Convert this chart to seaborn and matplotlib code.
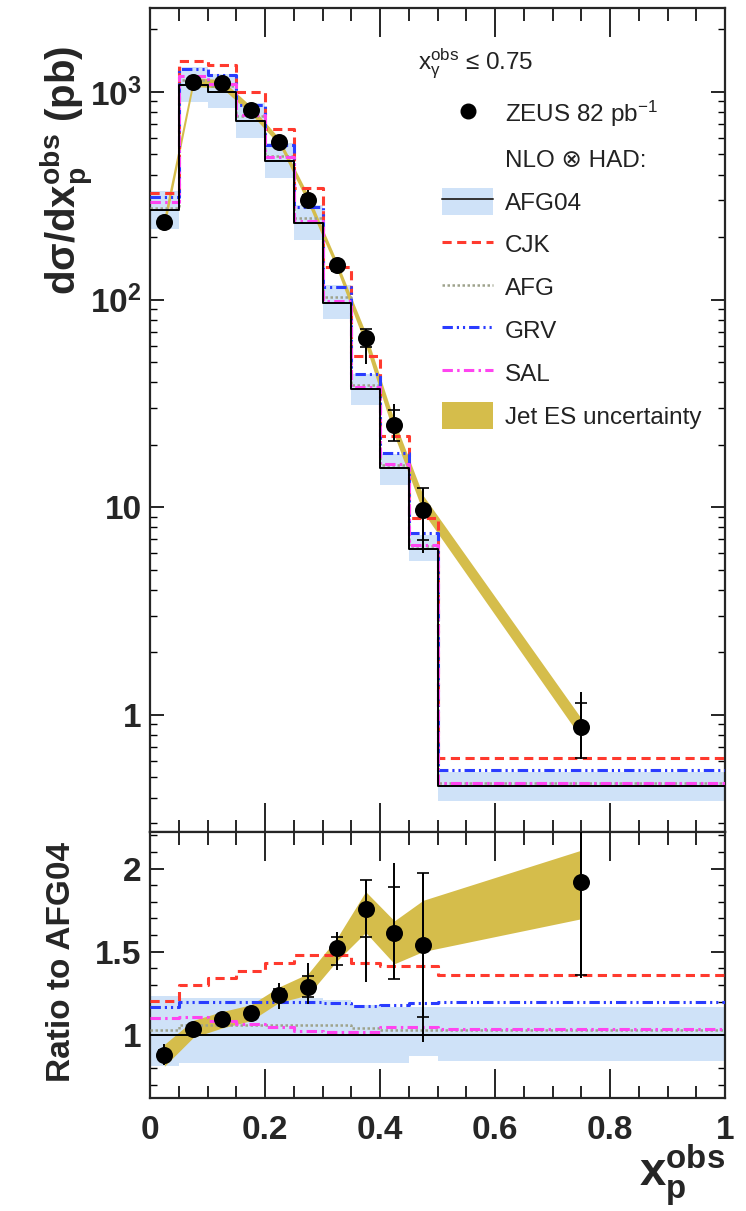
import numpy as np
import pandas as pd
import matplotlib
matplotlib.use("Agg")
import matplotlib.pyplot as plt
import seaborn as sns
from matplotlib.lines import Line2D
from matplotlib.patches import Patch
from matplotlib.ticker import FixedLocator, MultipleLocator, LogLocator, FuncFormatter, NullFormatter

# ---------------- data ----------------
bin_edges = [0.0, 0.05, 0.10, 0.15, 0.20, 0.25, 0.30, 0.35, 0.40, 0.45, 0.50, 1.0]
x_centers = [0.025, 0.075, 0.125, 0.175, 0.225, 0.275, 0.325, 0.375, 0.425, 0.475, 0.75]

zeus = [237, 1117, 1100, 819, 575, 302, 147, 65.5, 25.0, 9.7, 0.875]
stat_up = [0.03, 0.02, 0.015, 0.02, 0.03, 0.05, 0.045, 0.10, 0.17, 0.28, 0.30]
stat_dn = [0.03, 0.02, 0.015, 0.02, 0.03, 0.05, 0.065, 0.095, 0.17, 0.28, 0.29]
tot_up = [0.07, 0.04, 0.03, 0.04, 0.06, 0.11, 0.065, 0.10, 0.26, 0.28, 0.47]
tot_dn = [0.07, 0.04, 0.03, 0.04, 0.07, 0.08, 0.085, 0.25, 0.17, 0.38, 0.30]

# Jet energy-scale band relative to the data
jes_lo = [0.92, 0.95, 0.95, 0.96, 0.965, 0.96, 0.95, 0.92, 0.885, 0.975, 0.885]
jes_hi = [1.07, 1.05, 1.04, 1.045, 1.04, 1.06, 1.04, 1.06, 1.045, 1.175, 1.10]

# NLO x HAD, AFG04 (pb) and its uncertainty band (ratio)
afg04 = [269, 1079, 1004, 725, 464, 234, 96.7, 37.3, 15.5, 6.3, 0.456]
afg04_lo = [0.81, 0.83, 0.83, 0.83, 0.83, 0.83, 0.83, 0.83, 0.83, 0.87, 0.84]
afg04_hi = [1.235, 1.22, 1.22, 1.22, 1.22, 1.22, 1.21, 1.18, 1.17, 1.17, 1.165]

# other photon PDFs, ratio to AFG04
cjk_r = [1.205, 1.30, 1.34, 1.385, 1.435, 1.48, 1.48, 1.43, 1.415, 1.415, 1.36]
afg_r = [1.03, 1.06, 1.06, 1.06, 1.06, 1.06, 1.06, 1.04, 1.03, 1.03, 1.03]
grv_r = [1.165, 1.195, 1.195, 1.195, 1.195, 1.195, 1.19, 1.175, 1.18, 1.19, 1.195]
sal_r = [1.10, 1.11, 1.085, 1.065, 1.045, 1.025, 1.015, 1.015, 1.045, 1.045, 1.035]

x_ticks = [0, 0.2, 0.4, 0.6, 0.8, 1.0]
ratio_ticks = [1, 1.5, 2]

# ---------------- style ----------------
sns.set_theme(style="ticks")
plt.rcParams["font.family"] = ["Liberation Sans", "DejaVu Sans"]
plt.rcParams["mathtext.fontset"] = "custom"
plt.rcParams["mathtext.rm"] = "Liberation Sans"
plt.rcParams["mathtext.it"] = "Liberation Sans"
plt.rcParams["mathtext.bf"] = "Liberation Sans:bold"
plt.rcParams["mathtext.sf"] = "Liberation Sans"
plt.rcParams["mathtext.default"] = "regular"
plt.rcParams["axes.linewidth"] = 1.5

C_BAND = "#cfe2f8"
C_JES = "#d5bd4b"
C_CJK = "#ff3a2e"
C_AFG = "#9ea38c"
C_GRV = "#2a3cff"
C_SAL = "#ff44f0"

LS_CJK = (0, (3.0, 1.8))
LS_AFG = (0, (1.0, 1.0))
LS_GRV = (0, (3.4, 1.3, 0.7, 1.3, 0.7, 1.3))
LS_SAL = (0, (3.4, 1.4, 0.8, 1.4))

W, H = 746, 1211
fig = plt.figure(figsize=(W / 100, H / 100), dpi=100)
ax1 = fig.add_axes([150 / W, 1 - 832 / H, 575 / W, 824 / H])
ax2 = fig.add_axes([150 / W, 1 - 1098 / H, 575 / W, 266 / H])

edges = np.array(bin_edges)
xc = np.array(x_centers)
z = np.array(zeus)
a4 = np.array(afg04)


def ext(v):
    v = list(v)
    return v + [v[-1]]


def steps(ax, vals, color, ls, lw, zorder):
    df = pd.DataFrame({"x": edges, "y": ext(vals)})
    sns.lineplot(data=df, x="x", y="y", ax=ax, estimator=None, sort=False,
                 drawstyle="steps-post", color=color, linestyle=ls, lw=lw,
                 zorder=zorder, legend=False)


def draw(ax, scale):
    # scale: AFG04 values (top) or ones (ratio)
    s = np.array(scale)
    ax.fill_between(edges, ext(s * np.array(afg04_lo)), ext(s * np.array(afg04_hi)),
                    step="post", color=C_BAND, lw=0, zorder=1)
    zz = z / a4 * s
    ax.fill_between(xc, zz * np.array(jes_lo), zz * np.array(jes_hi),
                    color=C_JES, lw=0, zorder=2)
    steps(ax, s, "black", "-", 1.4, 4)
    steps(ax, s * np.array(afg_r), C_AFG, LS_AFG, 1.8, 3)
    steps(ax, s * np.array(cjk_r), C_CJK, LS_CJK, 2.2, 3)
    steps(ax, s * np.array(grv_r), C_GRV, LS_GRV, 2.2, 3)
    steps(ax, s * np.array(sal_r), C_SAL, LS_SAL, 2.2, 3)
    ax.errorbar(xc, zz, yerr=[zz * np.array(tot_dn), zz * np.array(tot_up)],
                fmt="none", ecolor="black", elinewidth=1.4, capsize=0, zorder=5)
    ax.errorbar(xc, zz, yerr=[zz * np.array(stat_dn), zz * np.array(stat_up)],
                fmt="none", ecolor="black", elinewidth=1.4, capsize=4.5,
                capthick=1.2, zorder=5)
    sns.scatterplot(x=xc, y=zz, ax=ax, color="black", s=150, edgecolor="black",
                    linewidth=0, zorder=6, legend=False)


draw(ax1, a4)
draw(ax2, np.ones_like(a4))

# ---------------- axes ----------------
for ax in (ax1, ax2):
    ax.set_xlim(0, 1)
    ax.xaxis.set_major_locator(FixedLocator(x_ticks))
    ax.xaxis.set_minor_locator(MultipleLocator(0.05))
    ax.tick_params(axis="both", which="both", direction="in", top=True, right=True,
                   color="black")
    ax.tick_params(axis="x", which="major", length=21, width=1.2)
    ax.tick_params(axis="x", which="minor", length=9, width=1.2)
    ax.set_xlabel("")
    ax.set_ylabel("")
    for sp in ax.spines.values():
        sp.set_linewidth(1.6)

ax1.set_yscale("log")
ax1.set_ylim(0.273, 2535)
ax1.yaxis.set_major_locator(LogLocator(base=10, numticks=10))
ax1.yaxis.set_minor_locator(LogLocator(base=10, subs=np.arange(2, 10), numticks=20))
ax1.yaxis.set_minor_formatter(NullFormatter())
ylabels = {1: "1", 10: "10", 100: r"$\mathbf{10^2}$", 1000: r"$\mathbf{10^3}$"}
ax1.yaxis.set_major_formatter(FuncFormatter(lambda v, p: ylabels.get(int(round(v)), "")))
ax1.tick_params(axis="y", which="major", length=10, width=1.2, pad=6, labelsize=24)
ax1.tick_params(axis="y", which="minor", length=5, width=1.0)
ax1.tick_params(axis="x", labelbottom=False)
for t in ax1.get_yticklabels():
    t.set_fontweight("bold")

ax2.set_ylim(0.62, 2.22)
ax2.yaxis.set_major_locator(FixedLocator(ratio_ticks))
ax2.yaxis.set_minor_locator(MultipleLocator(0.1))
ax2.yaxis.set_major_formatter(FuncFormatter(lambda v, p: f"{v:g}"))
ax2.xaxis.set_major_formatter(FuncFormatter(lambda v, p: f"{v:g}"))
ax2.tick_params(axis="y", which="major", length=10, width=1.2, pad=6, labelsize=24)
ax2.tick_params(axis="y", which="minor", length=5, width=1.0)
ax2.tick_params(axis="x", which="major", pad=12, labelsize=24)
for t in ax2.get_yticklabels() + ax2.get_xticklabels():
    t.set_fontweight("bold")

# ---------------- labels ----------------
fig.text(66 / W, 1 - 170 / H, r"$\mathbf{d\sigma/dx_p^{obs}}$ (pb)", rotation=90,
         ha="center", va="center", fontsize=29, fontweight="bold")
fig.text(62 / W, 1 - 962 / H, "Ratio to AFG04", rotation=90, ha="center", va="center",
         fontsize=24, fontweight="bold")
fig.text(725 / W, 1 - 1175 / H, r"$\mathbf{x_p^{obs}}$", ha="right", va="center",
         fontsize=34, fontweight="bold")

# ---------------- legend ----------------
FS = 17.5
ax1.text((418 - 150) / 575, 1 - (64 - 8) / 824, r"$x_\gamma^{obs}$ ≤ 0.75",
         transform=ax1.transAxes, fontsize=FS, ha="left", va="center", color="#222222")

handles = [
    Line2D([], [], marker="o", color="black", ls="none", markersize=10.5),
    Line2D([], [], ls="none"),
    (Patch(facecolor=C_BAND, edgecolor="none"), Line2D([], [], color="#333333", lw=1.4)),
    Line2D([], [], color=C_CJK, ls=LS_CJK, lw=2.2),
    Line2D([], [], color=C_AFG, ls=LS_AFG, lw=1.8),
    Line2D([], [], color=C_GRV, ls=LS_GRV, lw=2.2),
    Line2D([], [], color=C_SAL, ls=LS_SAL, lw=2.2),
    Patch(facecolor=C_JES, edgecolor="none"),
]
labels = [r"ZEUS 82 pb$^{-1}$", "NLO ⊗ HAD:", "AFG04", "CJK", "AFG", "GRV", "SAL",
          "Jet ES uncertainty"]
leg = ax1.legend(handles, labels, loc="upper left",
                 bbox_to_anchor=((442 - 150) / 575, 1 - (99 - 8) / 824),
                 frameon=False, fontsize=FS, handlelength=2.1, handleheight=1.3,
                 handletextpad=0.5, labelspacing=0.67, borderpad=0, borderaxespad=0)
for t in leg.get_texts():
    t.set_color("#222222")

fig.savefig("out.png", dpi=100)
